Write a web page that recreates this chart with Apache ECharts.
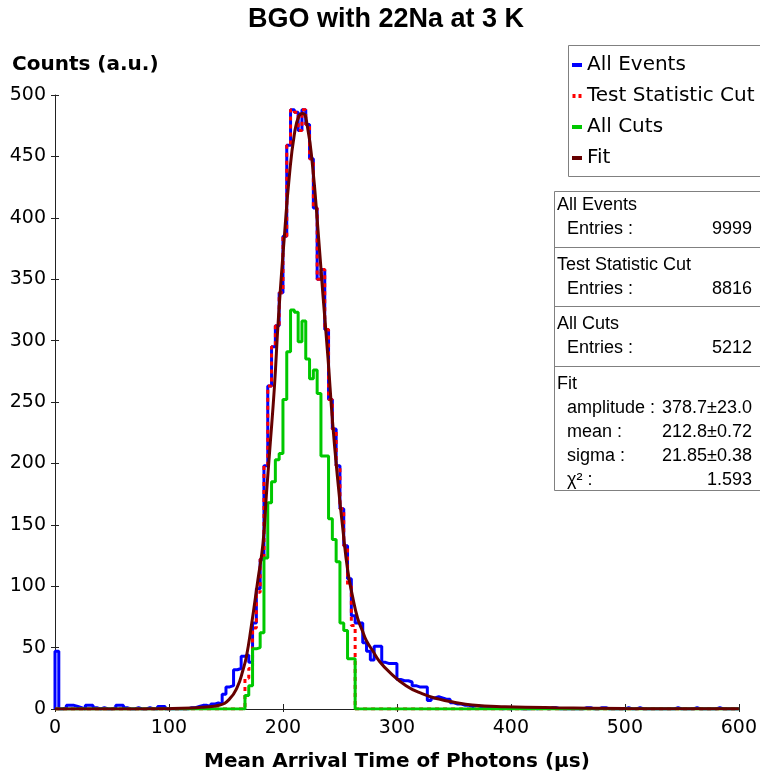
<!DOCTYPE html>
<html>
<head>
<meta charset="utf-8">
<script src="https://cdn.jsdelivr.net/npm/echarts@6/dist/echarts.min.js"></script>
<style>
html, body { margin: 0; padding: 0; background: #fff; }
#main { width: 760px; height: 777px; }
</style>
</head>
<body>
<div id="main"></div>
<script>
// histogram binning: 180 bins over 0 - 600 us
var binWidth = 10 / 3;
var xMin = 0, xMax = 600, xStep = 100;
var yMin = 0, yMax = 500, yStep = 50;

// All Events, one value per bin (bins 0..179)
var allEvents = [
  47, 0, 1, 3, 3, 2, 1, 0, 3, 3,
  1, 0, 1, 0, 0, 1, 3, 3, 1, 0,
  0, 1, 0, 0, 1, 0, 0, 2, 2, 0,
  0, 0, 0, 0, 0, 1, 1, 2, 3, 3,
  2, 4, 5, 4, 12, 18, 19, 32, 33, 43,
  44, 38, 70, 98, 122, 198, 263, 295, 312, 339,
  385, 459, 488, 486, 471, 488, 476, 448, 408, 350,
  358, 309, 252, 228, 198, 163, 133, 106, 76, 70,
  70, 54, 47, 40, 51, 51, 38, 37, 37, 37,
  24, 23, 23, 22, 19, 18, 18, 18, 7, 9,
  10, 9, 8, 8, 5, 4, 4, 3, 3, 2,
  3, 2, 2, 1, 2, 1, 1, 0, 1, 0,
  1, 1, 0, 0, 0, 1, 0, 1, 1, 0,
  1, 1, 0, 0, 0, 0, 0, 0, 0, 1,
  1, 0, 0, 1, 1, 0, 0, 0, 0, 0,
  1, 0, 0, 1, 0, 0, 0, 0, 0, 0,
  0, 0, 0, 1, 0, 0, 0, 0, 1, 0,
  0, 0, 0, 0, 1, 0, 0, 0, 0, 0
];

// the two cut histograms are only filled from bin 50 to bin 78
var cutFirstBin = 50;
var testStatCut = [
  25, 33, 66, 95, 122, 198, 263, 295, 312, 339,
  385, 459, 488, 486, 471, 488, 476, 448, 408, 350,
  358, 309, 252, 228, 198, 163, 133, 100, 68
];
var allCuts = [
  11, 19, 49, 50, 62, 123, 168, 185, 203, 208,
  252, 291, 325, 323, 299, 316, 285, 269, 276, 257,
  206, 206, 155, 138, 120, 70, 64, 41, 41
];

// fit curve
var fitX = [0, 60, 100, 120, 130, 144, 153, 160, 165, 168, 172, 178, 182.5, 185.5, 188.5, 192.5, 196,
  201.5, 205.5, 210, 214, 217.5, 221.5, 226, 230.5, 235, 239.5, 243.5, 248, 252.5, 256.8, 261,
  265.5, 270, 273, 279, 284.5, 293.5, 308, 322, 337, 350, 366, 395, 440, 500, 600];
var fitY = [0, 0, 0.3, 0.8, 1.5, 3, 8, 18, 32, 43, 66, 105, 135, 175, 212, 262, 318,
  388, 433, 468, 483, 485, 474, 442, 393, 338, 286, 234, 187, 147, 113, 92,
  74, 63, 56, 47, 39, 30, 19, 12.5, 8, 5.5, 3.3, 1.9, 1, 0.5, 0.2];

var seriesNames = ['All Events', 'Test Statistic Cut', 'All Cuts', 'Fit'];
var seriesColors = ['#0000ff', '#ff0000', '#00c800', '#660000'];

var statsRows = [
  ['All Events', ''],
  ['Entries :', '9999'],
  ['Test Statistic Cut', ''],
  ['Entries :', '8816'],
  ['All Cuts', ''],
  ['Entries :', '5212'],
  ['Fit', ''],
  ['amplitude :', '378.7±23.0'],
  ['mean :', '212.8±0.72'],
  ['sigma :', '21.85±0.38'],
  ['χ² :', '1.593']
];

// outline of a histogram, zero outside the filled bins
function histOutline(counts, firstBin) {
  var pts = [[xMin, 0], [firstBin * binWidth, 0]];
  for (var i = 0; i < counts.length; i++) {
    var lo = (firstBin + i) * binWidth, hi = (firstBin + i + 1) * binWidth;
    pts.push([lo, counts[i]]);
    pts.push([hi, counts[i]]);
  }
  pts.push([(firstBin + counts.length) * binWidth, 0]);
  pts.push([xMax, 0]);
  return pts;
}

var fitData = fitX.map(function (x, i) { return [x, fitY[i]]; });

var tickFont = 'DejaVu Sans';
var chart = echarts.init(document.getElementById('main'));

// legend frame and stats box (both run off the right edge)
var boxGraphics = [{
  type: 'rect', z: -1, shape: { x: 568.5, y: 45.5, width: 240, height: 131 },
  style: { fill: '#fff', stroke: '#808080', lineWidth: 1 }
}];
var boxLeft = 554.5, boxTop = 191.5;
boxGraphics.push({
  type: 'rect', shape: { x: boxLeft, y: boxTop, width: 230, height: 299 },
  style: { fill: '#fff', stroke: '#808080', lineWidth: 1 }
});
[247.5, 306.5, 366.5].forEach(function (y) {
  boxGraphics.push({ type: 'line', shape: { x1: boxLeft, y1: y, x2: 790, y2: y },
    style: { stroke: '#808080', lineWidth: 1 } });
});
var rowY = [205, 229, 265, 289, 324, 348, 384, 408, 432, 456, 480];
statsRows.forEach(function (r, i) {
  var isHead = r[1] === '';
  boxGraphics.push({ type: 'text', x: isHead ? 557 : 567, y: rowY[i],
    style: { text: r[0], font: '18px "Liberation Sans"', fill: '#000', verticalAlign: 'middle' } });
  if (!isHead) {
    boxGraphics.push({ type: 'text', x: 752, y: rowY[i],
      style: { text: r[1], font: '18px "Liberation Sans"', fill: '#000', align: 'right', verticalAlign: 'middle' } });
  }
});

chart.setOption({
  animation: false,
  grid: { left: 55, right: 19, top: 95, bottom: 67 },
  legend: {
    orient: 'vertical',
    left: 568, top: 45,
    padding: [8, 4, 8, 4],
    itemGap: 7,
    itemWidth: 10, itemHeight: 4,
    borderWidth: 0,
    textStyle: { fontFamily: tickFont, fontSize: 20, color: '#000', lineHeight: 24 },
    data: [
      { name: seriesNames[0], icon: 'rect' },
      { name: seriesNames[1], icon: 'path://M0,0h3v4h-3zM6,0h3v4h-3z' },
      { name: seriesNames[2], icon: 'rect' },
      { name: seriesNames[3], icon: 'rect' }
    ]
  },
  xAxis: [{
    type: 'value', min: xMin, max: xMax, interval: xStep,
    name: 'Mean Arrival Time of Photons (µs)', nameLocation: 'middle', nameGap: 43,
    nameTextStyle: { fontFamily: tickFont, fontSize: 20, fontWeight: 'bold', color: '#000' },
    axisLine: { lineStyle: { color: '#222', width: 1 } },
    axisTick: { length: 3, lineStyle: { color: '#222' } },
    axisLabel: { fontFamily: tickFont, fontSize: 19, color: '#000', margin: 10 },
    splitLine: { show: false }
  }, {
    type: 'value', min: xMin, max: xMax, interval: xStep, position: 'bottom',
    axisLine: { show: false },
    axisTick: { inside: true, length: 5, lineStyle: { color: '#222' } },
    axisLabel: { show: false }, splitLine: { show: false }
  }],
  yAxis: [{
    type: 'value', min: yMin, max: yMax, interval: yStep,
    axisLine: { show: true, lineStyle: { color: '#222', width: 1 } },
    axisTick: { show: true, length: 4, lineStyle: { color: '#222' } },
    axisLabel: { fontFamily: tickFont, fontSize: 19, color: '#000', margin: 9 },
    splitLine: { show: false }
  }, {
    type: 'value', min: yMin, max: yMax, interval: yStep, position: 'left',
    axisLine: { show: false },
    axisTick: { show: true, inside: true, length: 4, lineStyle: { color: '#222' } },
    axisLabel: { show: false }, splitLine: { show: false }
  }],
  series: [{
    name: seriesNames[0], type: 'line', showSymbol: false, symbol: 'none',
    data: histOutline(allEvents, 0),
    itemStyle: { color: seriesColors[0] },
    lineStyle: { color: seriesColors[0], width: 3 }
  }, {
    name: seriesNames[1], type: 'line', showSymbol: false, symbol: 'none',
    data: histOutline(testStatCut, cutFirstBin),
    itemStyle: { color: seriesColors[1] },
    lineStyle: { color: seriesColors[1], width: 3, type: [4, 4] }
  }, {
    name: seriesNames[2], type: 'line', showSymbol: false, symbol: 'none',
    data: histOutline(allCuts, cutFirstBin),
    itemStyle: { color: seriesColors[2] },
    lineStyle: { color: seriesColors[2], width: 3 }
  }, {
    name: seriesNames[3], type: 'line', showSymbol: false, symbol: 'none',
    smooth: 0.5,
    data: fitData,
    itemStyle: { color: seriesColors[3] },
    lineStyle: { color: seriesColors[3], width: 3 }
  }],
  graphic: [{
    type: 'text', x: 386, y: 20,
    style: { text: 'BGO with 22Na at 3 K', font: 'bold 27px "Liberation Sans"', fill: '#000',
      align: 'center', verticalAlign: 'middle' }
  }, {
    type: 'text', x: 12, y: 65,
    style: { text: 'Counts (a.u.)', font: 'bold 20px "DejaVu Sans"', fill: '#000', verticalAlign: 'middle' }
  }].concat(boxGraphics)
});
</script>
</body>
</html>
